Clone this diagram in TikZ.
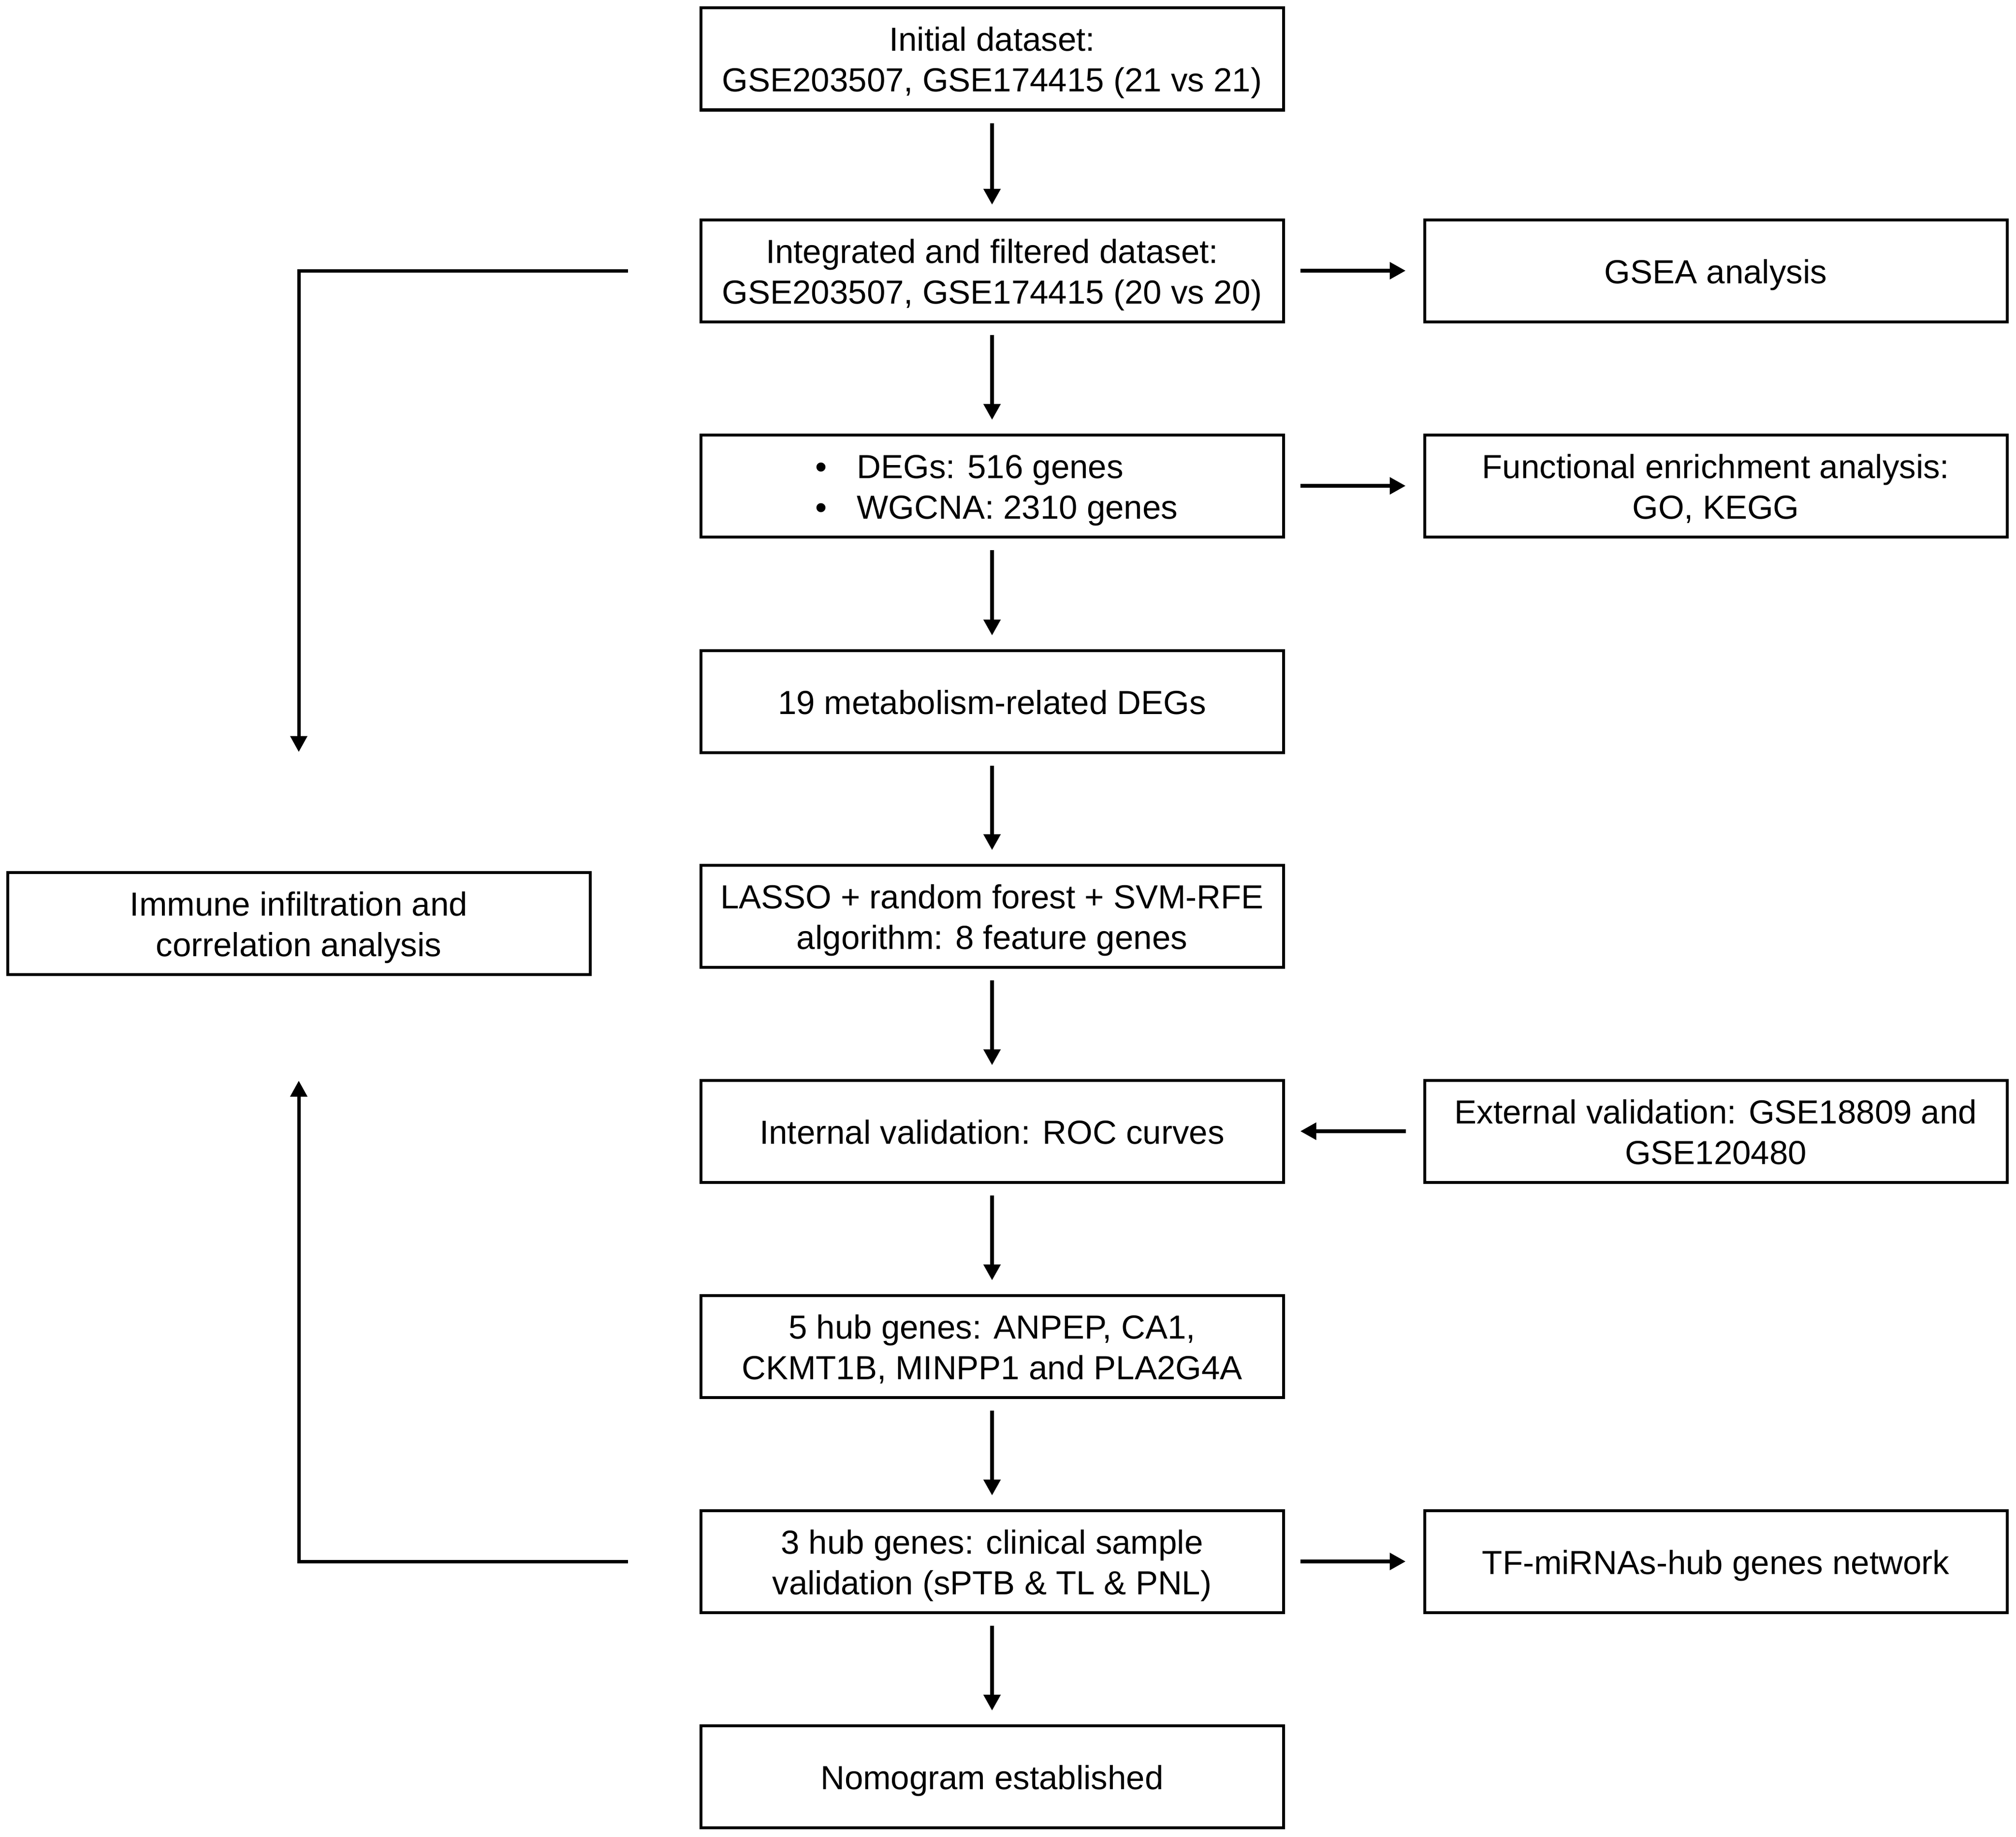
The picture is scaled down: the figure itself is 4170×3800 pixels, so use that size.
\documentclass[tikz,border=0pt]{standalone}
\usepackage{fontspec}
\usepackage{array}
\setmainfont{Liberation Sans}
\usetikzlibrary{arrows.meta}
\newcommand{\boxstrut}{\rule[-16pt]{0pt}{84pt}}
\newcolumntype{C}{>{\boxstrut}c}
\newcolumntype{L}{>{\boxstrut}l}
\renewcommand{\arraystretch}{0}
\newcommand{\ctext}[1]{\begin{tabular}{@{}C@{}}#1\end{tabular}}
\newcommand{\bitem}{\hspace*{34pt}\makebox[71pt][l]{\kern-15pt\textbullet}}
\tikzset{
  box/.style={draw=black, line width=6pt, fill=white, minimum width=1205pt, minimum height=211pt,
    inner sep=0pt, font=\fontsize{69}{84}\selectfont},
  flowarrow/.style={line width=8pt, -{Triangle[length=33pt,width=34pt]}},
  loopline/.style={line width=7pt, -{Triangle[length=33pt,width=34pt]}},
}
\begin{document}
\begin{tikzpicture}[x=1pt,y=-1pt]
\useasboundingbox (0,0) rectangle (4170,3800);
% main column
\node[box] (b1) at (2052,122) {\ctext{Initial dataset:\\GSE203507, GSE174415 (21 vs 21)}};
\node[box] (b2) at (2052,560) {\ctext{Integrated and filtered dataset:\\GSE203507, GSE174415 (20 vs 20)}};
\node[box] (b3) at (2052,1005) {\begin{tabular}{@{}L@{}}\bitem DEGs: 516 genes\\\bitem WGCNA: 2310 genes\end{tabular}};
\node[box] (b4) at (2052,1451) {\ctext{19 metabolism-related DEGs}};
\node[box] (b5) at (2052,1895) {\ctext{LASSO + random forest + SVM-RFE\\algorithm: 8 feature genes}};
\node[box] (b6) at (2052,2340) {\ctext{Internal validation: ROC curves}};
\node[box] (b7) at (2052,2785) {\ctext{5 hub genes: ANPEP, CA1,\\CKMT1B, MINPP1 and PLA2G4A}};
\node[box] (b8) at (2052,3230) {\ctext{3 hub genes: clinical sample\\validation (sPTB \& TL \& PNL)}};
\node[box] (b9) at (2052,3675) {\ctext{Nomogram established}};
% right column
\node[box] (r1) at (3549,560) {\ctext{GSEA analysis}};
\node[box] (r2) at (3549,1005) {\ctext{Functional enrichment analysis:\\GO, KEGG}};
\node[box] (r3) at (3549,2340) {\ctext{External validation: GSE18809 and\\GSE120480}};
\node[box] (r4) at (3549,3230) {\ctext{TF-miRNAs-hub genes network}};
% left box
\node[box] (l1) at (618,1910) {\ctext{Immune infiltration and\\correlation analysis}};
% vertical arrows
\foreach \a/\b in {b1/b2,b2/b3,b3/b4,b4/b5,b5/b6,b6/b7,b7/b8,b8/b9}
  \draw[flowarrow, shorten <=24pt, shorten >=28pt] (\a.south) -- (\b.north);
% horizontal arrows
\draw[flowarrow, shorten <=32pt, shorten >=36pt] (b2.east) -- (r1.west);
\draw[flowarrow, shorten <=32pt, shorten >=36pt] (b3.east) -- (r2.west);
\draw[flowarrow, shorten <=36pt, shorten >=32pt] (r3.west) -- (b6.east);
\draw[flowarrow, shorten <=32pt, shorten >=36pt] (b8.east) -- (r4.west);
% left loop connectors
\coordinate (u0) at (1299,560);
\coordinate (d0) at (1299,3230);
\draw[loopline, shorten >=246pt] (u0) -| (l1.north);
\draw[loopline, shorten >=217pt] (d0) -| (l1.south);
\end{tikzpicture}
\end{document}
